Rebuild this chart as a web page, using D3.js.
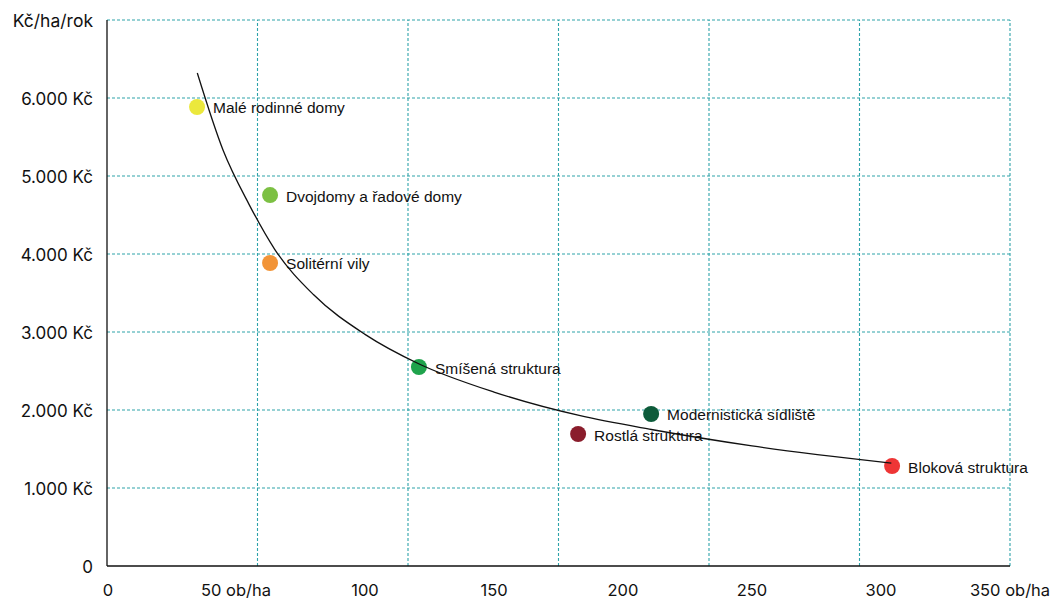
<!doctype html>
<html lang="cs">
<head>
  <meta charset="utf-8">
  <style>
    body { margin: 0; background: #fff; }
    svg text { font-family: Inter, "Noto Sans", sans-serif; fill: #111; }
    .lbl { font-family: "Liberation Sans Narrow", "Liberation Sans", sans-serif; font-size: 15.5px; }
  </style>
</head>
<body>
  <script src="https://cdnjs.cloudflare.com/ajax/libs/d3/7.8.5/d3.min.js"></script>
  <div id="chart"></div>
  <script>
    // data
    var names   = ["Malé rodinné domy", "Dvojdomy a řadové domy", "Solitérní vily", "Smíšená struktura",
                   "Modernistická sídliště", "Rostlá struktura", "Bloková struktura"];
    var density = [34.9, 63.2, 63.2, 120.9, 210.9, 182.6, 304.3];      // ob/ha
    var cost    = [5885, 4756, 3885, 2551, 1949, 1692, 1282];          // Kč/ha/rok
    var colors  = ["#ebe83c", "#7cc043", "#f29437", "#1fa34c", "#0d5b3a", "#8a1d2c", "#ee3535"];

    // trend curve
    var trendX = [35, 45, 55, 65, 80, 100, 121, 150, 183, 211, 250, 304];
    var trendY = [6320, 5330, 4640, 4060, 3480, 2970, 2590, 2230, 1930, 1750, 1540, 1320];

    var xTicks = [0, 50, 100, 150, 200, 250, 300, 350];
    var xTickLabels = ["0", "50 ob/ha", "100", "150", "200", "250", "300", "350 ob/ha"];
    var yTicks = [0, 1000, 2000, 3000, 4000, 5000, 6000];
    var yTickLabels = ["0", "1.000 Kč", "2.000 Kč", "3.000 Kč", "4.000 Kč", "5.000 Kč", "6.000 Kč"];

    var width = 1054, height = 601;
    var margin = {top: 20, right: 44, bottom: 35, left: 107};

    var svg = d3.select("#chart").append("svg")
        .attr("width", width)
        .attr("height", height);

    var x = d3.scaleLinear().domain([0, 350]).range([margin.left, width - margin.right]);
    var y = d3.scaleLinear().domain([0, 7000]).range([height - margin.bottom, margin.top]);

    var grid = "#2ea3aa";

    // vertical grid (every 350/6)
    var vGrid = d3.range(1, 7).map(function(i) { return 350 * i / 6; });
    svg.append("g").selectAll("line").data(vGrid).enter().append("line")
        .attr("x1", d => x(d)).attr("x2", d => x(d))
        .attr("y1", y(0)).attr("y2", y(7000))
        .attr("stroke", grid).attr("stroke-width", 1.1).attr("stroke-dasharray", "3,2");

    // horizontal grid
    svg.append("g").selectAll("line").data([1000, 2000, 3000, 4000, 5000, 6000, 7000]).enter().append("line")
        .attr("x1", x(0)).attr("x2", x(350))
        .attr("y1", d => y(d)).attr("y2", d => y(d))
        .attr("stroke", grid).attr("stroke-width", 1.1).attr("stroke-dasharray", "3,2");

    // axes lines
    svg.append("line").attr("x1", x(0)).attr("x2", x(0)).attr("y1", y(0)).attr("y2", y(7000))
        .attr("stroke", "#111").attr("stroke-width", 1.3);
    svg.append("line").attr("x1", x(0)).attr("x2", x(350)).attr("y1", y(0)).attr("y2", y(0))
        .attr("stroke", "#111").attr("stroke-width", 1.3);

    // tick labels
    svg.append("g").selectAll("text").data(xTicks).enter().append("text")
        .attr("x", d => x(d) + (d === 0 ? 1 : 0))
        .attr("y", 590)
        .attr("text-anchor", "middle")
        .attr("dominant-baseline", "central")
        .style("font-size", "16.5px")
        .text((d, i) => xTickLabels[i]);

    svg.append("g").selectAll("text").data(yTicks).enter().append("text")
        .attr("x", 93)
        .attr("y", d => y(d) + 1)
        .attr("text-anchor", "end")
        .attr("dominant-baseline", "central")
        .style("font-size", "17px")
        .text((d, i) => yTickLabels[i]);

    svg.append("text")
        .attr("x", 93).attr("y", 20)
        .attr("text-anchor", "end")
        .attr("dominant-baseline", "central")
        .style("font-size", "17.5px")
        .text("Kč/ha/rok");

    // trend line
    var trend = trendX.map(function(d, i) { return [d, trendY[i]]; });
    var line = d3.line().x(d => x(d[0])).y(d => y(d[1])).curve(d3.curveMonotoneX);

    // points
    var pts = svg.append("g").selectAll("g").data(names).enter().append("g");
    pts.append("circle")
        .attr("cx", (d, i) => x(density[i]))
        .attr("cy", (d, i) => y(cost[i]))
        .attr("r", 8)
        .attr("fill", (d, i) => colors[i]);

    svg.append("path").datum(trend)
        .attr("d", line)
        .attr("fill", "none")
        .attr("stroke", "#111")
        .attr("stroke-width", 1.3);

    pts.append("text")
        .attr("class", "lbl")
        .attr("x", (d, i) => x(density[i]) + 16)
        .attr("y", (d, i) => y(cost[i]) + 1)
        .attr("dominant-baseline", "central")
        .text(d => d);
  </script>
</body>
</html>
